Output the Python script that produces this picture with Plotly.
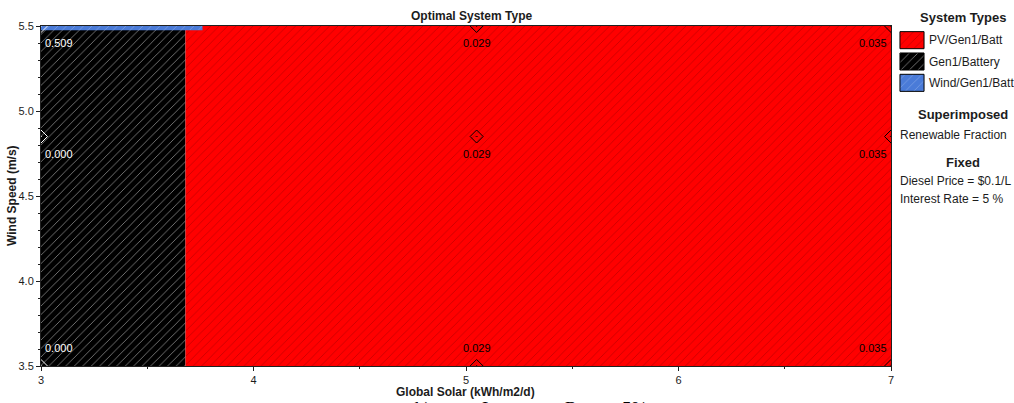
import plotly.graph_objects as go

# ---- data -------------------------------------------------------------
# sensitivity grid (global solar, wind speed)
solar_levels = [3.0, 5.05, 7.0]          # kWh/m2/d
wind_levels = [3.5, 4.85, 5.5]           # m/s

# renewable fraction at each grid point, rows follow solar_levels,
# columns follow wind_levels
renewable_fraction = [
    [0.000, 0.000, 0.509],
    [0.029, 0.029, 0.029],
    [0.035, 0.035, 0.035],
]

# optimal system type regions (solar range, wind range)
system_types = ["PV/Gen1/Batt", "Gen1/Battery", "Wind/Gen1/Batt"]
region_solar = {
    "Gen1/Battery": (3.0, 3.68),
    "PV/Gen1/Batt": (3.68, 7.0),
    "Wind/Gen1/Batt": (3.0, 3.76),
}
region_wind = {
    "Gen1/Battery": (3.5, 5.5),
    "PV/Gen1/Batt": (3.5, 5.5),
    "Wind/Gen1/Batt": (5.475, 5.5),
}

x_ticks = [3, 4, 5, 6, 7]
y_ticks = [3.5, 4.0, 4.5, 5.0, 5.5]

fixed_notes = ["Diesel Price = $0.1/L", "Interest Rate = 5 %"]

# ---- styles -----------------------------------------------------------
type_style = {
    "PV/Gen1/Batt": dict(bg="#ff0000", fg="#cc0000"),
    "Gen1/Battery": dict(bg="#000000", fg="#7a7a7a"),
    "Wind/Gen1/Batt": dict(bg="#4a7bd8", fg="#7399e2"),
}
draw_order = ["Gen1/Battery", "PV/Gen1/Batt", "Wind/Gen1/Batt"]

W, H = 1014, 403
ML, MR, MT, MB = 41, 5, 26, 37
PW, PH = W - ML - MR, H - MT - MB


def px(p):
    return (p - ML) / PW


def py(p):
    return (H - MB - p) / PH


FONT = "Liberation Sans, Arial, sans-serif"
TXT = "#1c1c1c"

fig = go.Figure()

# regions as bars spanning their solar and wind ranges
for name in draw_order:
    x0, x1 = region_solar[name]
    y0, y1 = region_wind[name]
    st = type_style[name]
    fig.add_trace(go.Bar(
        x=[(x0 + x1) / 2], width=[x1 - x0], y=[y1 - y0], base=[y0],
        marker=dict(color=st["bg"], line=dict(width=0),
                    pattern=dict(shape="/", fgcolor=st["fg"], bgcolor=st["bg"],
                                 fgopacity=1, size=6, solidity=0.15)),
        showlegend=False, hoverinfo="skip",
    ))

gen_edge = region_solar["Gen1/Battery"][1]

# superimposed sensitivity points
mx, my, mc = [], [], []
for i, s in enumerate(solar_levels):
    for j, w in enumerate(wind_levels):
        mx.append(s)
        my.append(w)
        mc.append("#ffffff" if s < gen_edge else "#000000")
fig.add_trace(go.Scatter(
    x=mx, y=my, mode="markers",
    marker=dict(symbol="diamond-open-dot", size=10, color=mc,
                line=dict(width=1, color=mc)),
    showlegend=False, hoverinfo="skip", cliponaxis=True,
))

annotations = []
for i, s in enumerate(solar_levels):
    for j, w in enumerate(wind_levels):
        if s == min(solar_levels):
            xa, xs = "left", 2
        elif s == max(solar_levels):
            xa, xs = "right", -2
        else:
            xa, xs = "center", 0
        if w == min(wind_levels):
            ya, ys = "bottom", 10
        else:
            ya, ys = "top", -9
        annotations.append(dict(
            x=s, y=w, xref="x", yref="y", text=f"{renewable_fraction[i][j]:.3f}",
            showarrow=False, xanchor=xa, yanchor=ya, xshift=xs, yshift=ys,
            font=dict(family=FONT, size=11,
                      color="#ffffff" if s < gen_edge else "#000000"),
        ))

# legend swatches on their own small axes
for name in system_types:
    st = type_style[name]
    fig.add_trace(go.Bar(
        x=[1], y=[name], orientation="h", xaxis="x2", yaxis="y2",
        marker=dict(color=st["bg"], line=dict(width=1, color="#000000"),
                    pattern=dict(shape="/", fgcolor=st["fg"], bgcolor=st["bg"],
                                 fgopacity=1, size=6, solidity=0.15)),
        showlegend=False, hoverinfo="skip",
    ))

# titles and side panel text
annotations += [
    dict(text="<b>Optimal System Type</b>", x=px(471), y=py(16), xref="paper", yref="paper",
         showarrow=False, xanchor="center", yanchor="middle",
         font=dict(family=FONT, size=12, color=TXT)),
    dict(text="<b>Global Solar (kWh/m2/d)</b>", x=px(465), y=py(392), xref="paper", yref="paper",
         showarrow=False, xanchor="center", yanchor="middle",
         font=dict(family=FONT, size=12, color=TXT)),
    dict(text="<b>Wind Speed (m/s)</b>", x=px(12), y=py(196), xref="paper", yref="paper",
         showarrow=False, xanchor="center", yanchor="middle", textangle=-90,
         font=dict(family=FONT, size=12, color=TXT)),
    dict(text="<b>System Types</b>", x=px(963), y=py(17), xref="paper", yref="paper",
         showarrow=False, xanchor="center", yanchor="middle",
         font=dict(family=FONT, size=13, color=TXT)),
    dict(text="<b>Superimposed</b>", x=px(963), y=py(115), xref="paper", yref="paper",
         showarrow=False, xanchor="center", yanchor="middle",
         font=dict(family=FONT, size=13, color=TXT)),
    dict(text="Renewable Fraction", x=px(898), y=py(135), xref="paper", yref="paper",
         showarrow=False, xanchor="left", yanchor="middle",
         font=dict(family=FONT, size=12, color=TXT)),
    dict(text="<b>Fixed</b>", x=px(963), y=py(162), xref="paper", yref="paper",
         showarrow=False, xanchor="center", yanchor="middle",
         font=dict(family=FONT, size=13, color=TXT)),
]
for k, note in enumerate(fixed_notes):
    annotations.append(dict(
        text=note, x=px(898), y=py(181 + 18 * k), xref="paper", yref="paper",
        showarrow=False, xanchor="left", yanchor="middle",
        font=dict(family=FONT, size=12, color=TXT)))

# caption line running off the bottom edge
for word, left in [("b)", 413), ("Interest", 480), ("Rate", 563), ("5%", 620)]:
    annotations.append(dict(
        text=word, x=px(left), y=py(396), xref="paper", yref="paper",
        showarrow=False, xanchor="left", yanchor="top",
        font=dict(family="Liberation Serif, Times New Roman, serif", size=19, color="#000000")))

axis_common = dict(
    showgrid=False, zeroline=False, showline=True, linecolor="#202020", linewidth=1,
    mirror=True, ticks="outside", ticklen=4, tickcolor="#202020", automargin=False,
    tickfont=dict(family=FONT, size=11, color=TXT),
)

fig.update_layout(
    width=W, height=H,
    margin=dict(l=ML, r=MR, t=MT, b=MB, autoexpand=False),
    paper_bgcolor="#ffffff", plot_bgcolor="#ffffff",
    barmode="overlay", bargap=0.2,
    showlegend=False,
    xaxis=dict(range=[3, 7], domain=[0, px(891)], tickvals=x_ticks,
               minor=dict(dtick=0.5, ticklen=2, tickcolor="#202020", ticks="outside"),
               **axis_common),
    yaxis=dict(range=[3.5, 5.5], tickvals=y_ticks, tickformat=".1f",
               minor=dict(dtick=0.1, ticklen=2, tickcolor="#202020", ticks="outside"),
               **axis_common),
    xaxis2=dict(domain=[px(899), px(925)], range=[-0.04, 1.04], visible=False,
                anchor="y2", fixedrange=True, automargin=False),
    yaxis2=dict(domain=[py(93.5), py(29.5)], anchor="x2", type="category",
                categoryorder="array", categoryarray=system_types, autorange="reversed",
                side="right", showline=False, showgrid=False, zeroline=False,
                ticks="", ticklabelstandoff=3, automargin=False,
                tickfont=dict(family=FONT, size=12, color=TXT)),
    annotations=annotations,
)

fig.write_html("out.html")
